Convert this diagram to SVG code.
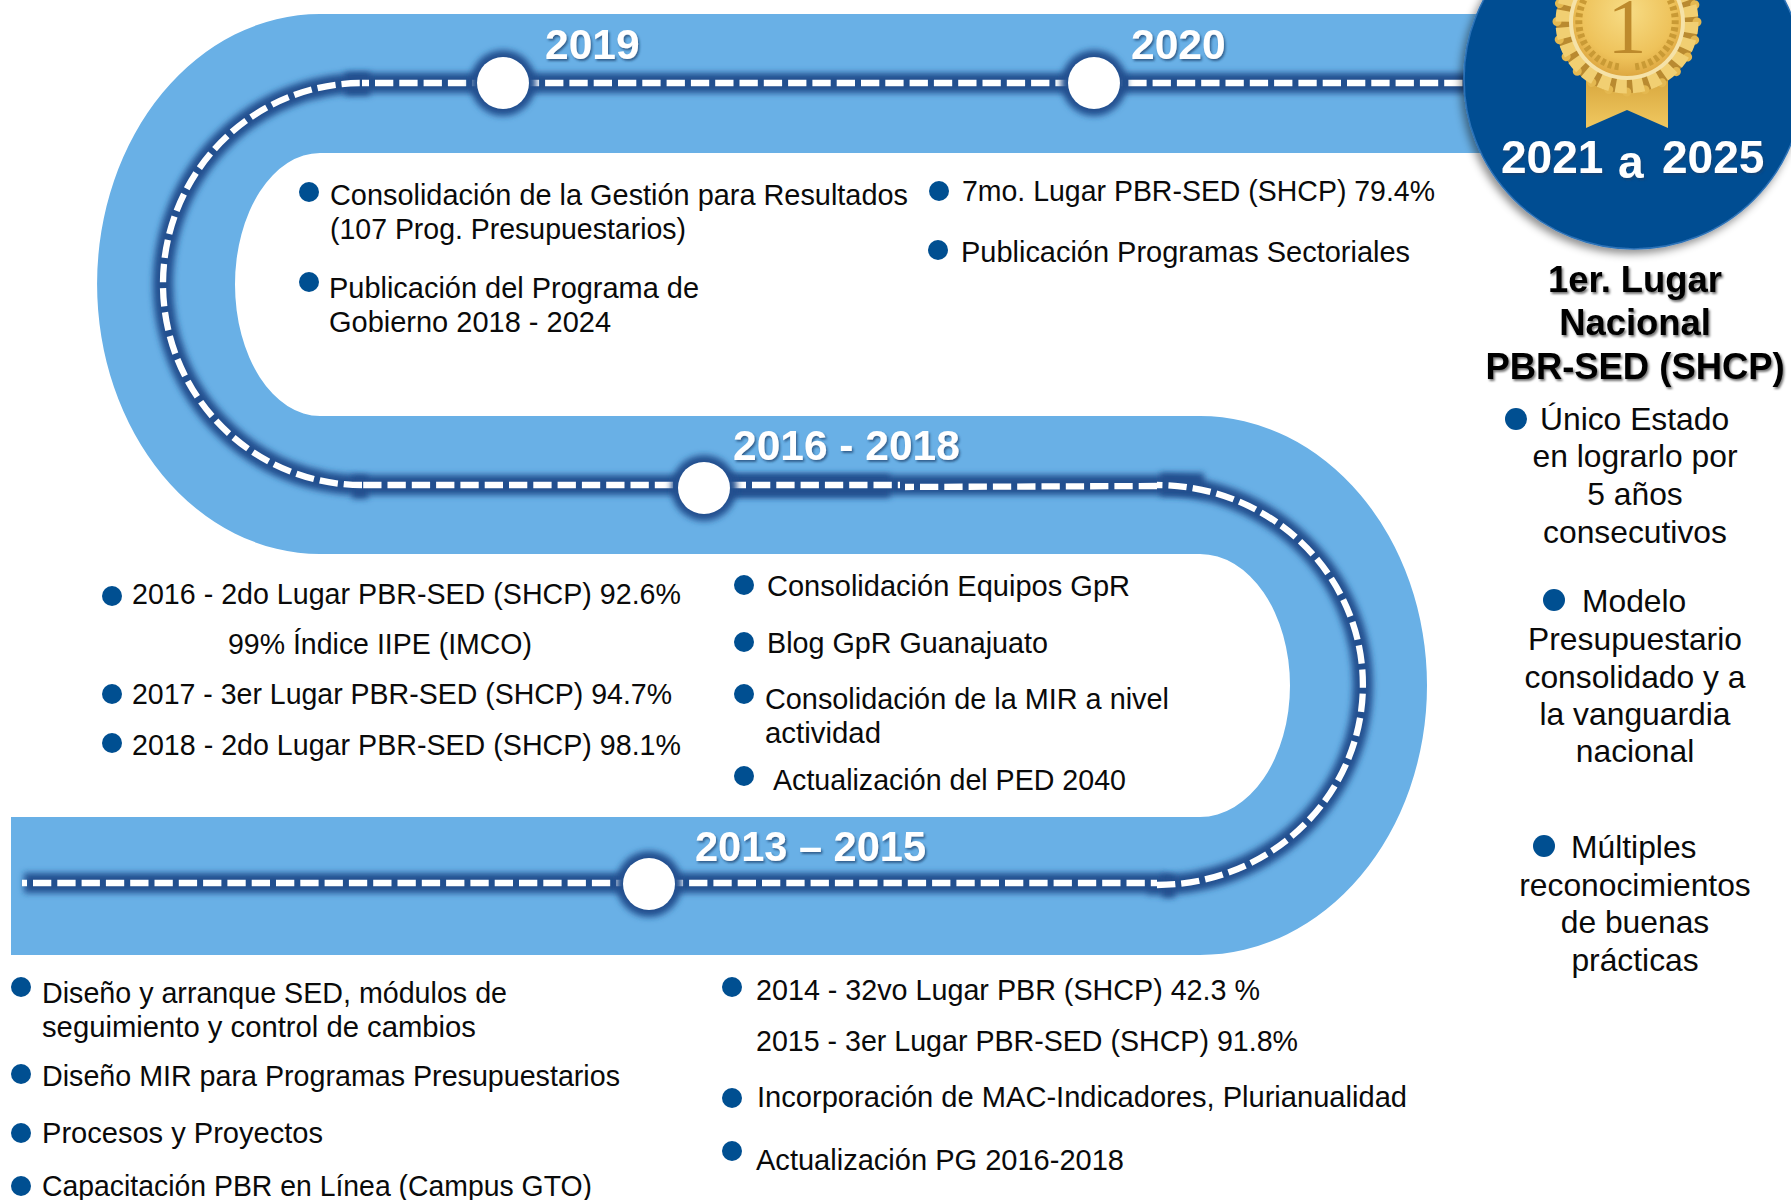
<svg xmlns="http://www.w3.org/2000/svg" width="1791" height="1200" viewBox="0 0 1791 1200">
<style>
text{font-family:"Liberation Sans",Arial,sans-serif}
.t{font-size:28.6px;fill:#0a0a0a}
.r{font-size:31.8px;fill:#0a0a0a}
.c{text-anchor:middle}
.y{font-size:42.500px;font-weight:bold;fill:#fff;filter:url(#ts)}
.y2{font-size:46px}
.h{font-size:36.400px;font-weight:bold;fill:#000;text-anchor:middle;filter:url(#ts2)}
.b{fill:#004f91}
.dash{fill:none;stroke:#fff;stroke-width:6.3;stroke-dasharray:18.3 6}
.glow{fill:none;stroke:#23508f;stroke-width:20;filter:url(#bl)}
.patch{fill:none;stroke:#23508f;stroke-width:23;filter:url(#bl)}
.n{fill:#fff}
.nh{fill:#23508f;filter:url(#bl)}
</style>
<defs>
<filter id="bl" filterUnits="userSpaceOnUse" x="0" y="0" width="1791" height="1200"><feGaussianBlur stdDeviation="3"/></filter>
<filter id="ts" x="-10%" y="-20%" width="125%" height="150%"><feDropShadow dx="1.500" dy="2" stdDeviation="1.200" flood-color="#1d3f6b" flood-opacity=".7"/></filter>
<filter id="ts2" x="-10%" y="-20%" width="125%" height="150%"><feDropShadow dx="1.500" dy="2" stdDeviation="1.200" flood-color="#000" flood-opacity=".55"/></filter>
<filter id="cs" x="-10%" y="-10%" width="125%" height="125%"><feDropShadow dx="-3" dy="4" stdDeviation="4" flood-color="#000" flood-opacity=".45"/></filter>
<radialGradient id="gold" cx="50%" cy="40%" r="62%"><stop offset="0" stop-color="#f7dc85"/><stop offset=".7" stop-color="#eec25a"/><stop offset="1" stop-color="#dca53f"/></radialGradient>
<linearGradient id="rib" x1="0" y1="0" x2="0" y2="1"><stop offset="0" stop-color="#d8a83f"/><stop offset="1" stop-color="#f0c860"/></linearGradient>
</defs>

<g id="band">
<path fill="#69b0e6" d="M1500 14H320A223 270 0 0 0 320 554H1200A90 131.500 0 0 1 1200 817H11V955H1200A227 269.500 0 0 0 1200 416H320A85 131.500 0 0 1 320 153H1500Z"/>
</g>

<g id="connectors">
<path class="glow" d="M24 883H1157V885A206 200 0 0 0 1157 485H362A199 201 0 0 1 362 83H1480"/>
<path class="patch" d="M700 486H890M345 84H370M352 487H368M1160 484.500H1204M1162 886H1175"/>
<path class="dash" style="stroke-dashoffset:13.3" d="M22 883H1157"/>
<path class="dash" d="M1157 885A206 200 0 0 0 1157 485"/>
<path class="dash" d="M1157 486L905 487"/>
<path class="dash" style="stroke-dashoffset:23.1" d="M362 485H900"/>
<path class="dash" d="M362 485A199 201 0 0 1 362 83"/>
<path class="dash" style="stroke-dashoffset:11.3" d="M362 83H1480"/>
</g>

<g id="node-2019"><circle class="nh" cx="503" cy="83" r="33"/><circle class="n" cx="503" cy="83" r="26"/><text class="y" x="545" y="59">2019</text></g>
<g id="node-2020"><circle class="nh" cx="1094" cy="83" r="33"/><circle class="n" cx="1094" cy="83" r="26"/><text class="y" x="1131" y="59">2020</text></g>
<g id="node-2016"><circle class="nh" cx="704" cy="488" r="33"/><circle class="n" cx="704" cy="488" r="26"/><text class="y" x="733" y="460">2016 - 2018</text></g>
<g id="node-2013"><circle class="nh" cx="649" cy="884" r="33"/><circle class="n" cx="649" cy="884" r="26"/><text class="y" x="695" y="861" textLength="231" lengthAdjust="spacingAndGlyphs">2013 – 2015</text></g>

<g id="node-2021">
<circle cx="1634" cy="79" r="170" fill="#044e92" stroke="#2b72b8" stroke-width="1.500" filter="url(#cs)"/>
<g id="medal">
<path d="M1586 80H1668V128L1627 110L1586 128Z" fill="url(#rib)"/>
<circle cx="1627" cy="22" r="64" fill="none" stroke="#b98a30" stroke-width="14"/>
<circle cx="1627" cy="22" r="70" fill="none" stroke="#e4b850" stroke-width="9" stroke-linecap="round" stroke-dasharray="0.100 18.230"/>
<circle cx="1627" cy="22" r="64" fill="none" stroke="#f1cf72" stroke-width="15" stroke-dasharray="11 5.760"/>
<circle cx="1627" cy="22" r="58" fill="#f5e2a8"/>
<circle cx="1627" cy="22" r="54" fill="url(#gold)"/>
<path d="M1584 0A46 46 0 0 0 1620 67M1670 0A46 46 0 0 1 1634 67" fill="none" stroke="#c99a35" stroke-width="7" stroke-dasharray="4 3"/>
<text x="1627" y="52" font-size="78" text-anchor="middle" fill="#bd8a2c" style="font-family:'Liberation Serif',serif">1</text>
</g>
<text class="y y2" x="1501" y="173">2021</text>
<text class="y y2" x="1618" y="178">a</text>
<text class="y y2" x="1662" y="173">2025</text>
</g>

<g id="titulo">
<text class="h" x="1635" y="292">1er. Lugar</text>
<text class="h" x="1635" y="335">Nacional</text>
<text class="h" x="1635" y="379">PBR-SED (SHCP)</text>
</g>

<g id="lista-2019">
<circle class="b" cx="309" cy="192" r="10"/><text class="t" x="330" y="205" textLength="578" lengthAdjust="spacingAndGlyphs">Consolidación de la Gestión para Resultados</text>
<text class="t" x="330" y="239" textLength="356" lengthAdjust="spacingAndGlyphs">(107 Prog. Presupuestarios)</text>
<circle class="b" cx="309" cy="282" r="10"/><text class="t" x="329" y="298" textLength="370" lengthAdjust="spacingAndGlyphs">Publicación del Programa de</text>
<text class="t" x="329" y="332" textLength="282" lengthAdjust="spacingAndGlyphs">Gobierno 2018 - 2024</text>
</g>
<g id="lista-2020">
<circle class="b" cx="939" cy="191" r="10"/><text class="t" x="962" y="201" textLength="473" lengthAdjust="spacingAndGlyphs">7mo. Lugar PBR-SED (SHCP) 79.4%</text>
<circle class="b" cx="938" cy="250" r="10"/><text class="t" x="961" y="262" textLength="449" lengthAdjust="spacingAndGlyphs">Publicación Programas Sectoriales</text>
</g>
<g id="lista-2016a">
<circle class="b" cx="112" cy="596" r="10"/><text class="t" x="132" y="604" textLength="549" lengthAdjust="spacingAndGlyphs">2016 - 2do Lugar PBR-SED (SHCP) 92.6%</text>
<text class="t" x="228" y="654" textLength="304" lengthAdjust="spacingAndGlyphs">99% Índice IIPE (IMCO)</text>
<circle class="b" cx="112" cy="694" r="10"/><text class="t" x="132" y="704" textLength="540" lengthAdjust="spacingAndGlyphs">2017 - 3er Lugar PBR-SED (SHCP) 94.7%</text>
<circle class="b" cx="112" cy="743" r="10"/><text class="t" x="132" y="755" textLength="549" lengthAdjust="spacingAndGlyphs">2018 - 2do Lugar PBR-SED (SHCP) 98.1%</text>
</g>
<g id="lista-2016b">
<circle class="b" cx="744" cy="585" r="10"/><text class="t" x="767" y="596" textLength="363" lengthAdjust="spacingAndGlyphs">Consolidación Equipos GpR</text>
<circle class="b" cx="744" cy="642" r="10"/><text class="t" x="767" y="653" textLength="281" lengthAdjust="spacingAndGlyphs">Blog GpR Guanajuato</text>
<circle class="b" cx="744" cy="694" r="10"/><text class="t" x="765" y="709" textLength="404" lengthAdjust="spacingAndGlyphs">Consolidación de la MIR a nivel</text>
<text class="t" x="765" y="743" textLength="116" lengthAdjust="spacingAndGlyphs">actividad</text>
<circle class="b" cx="744" cy="776" r="10"/><text class="t" x="773" y="790" textLength="353" lengthAdjust="spacingAndGlyphs">Actualización del PED 2040</text>
</g>
<g id="lista-2013a">
<circle class="b" cx="21" cy="987" r="10"/><text class="t" x="42" y="1003" textLength="465" lengthAdjust="spacingAndGlyphs">Diseño y arranque SED, módulos de</text>
<text class="t" x="42" y="1037" textLength="434" lengthAdjust="spacingAndGlyphs">seguimiento y control de cambios</text>
<circle class="b" cx="21" cy="1074" r="10"/><text class="t" x="42" y="1086" textLength="578" lengthAdjust="spacingAndGlyphs">Diseño MIR para Programas Presupuestarios</text>
<circle class="b" cx="21" cy="1133" r="10"/><text class="t" x="42" y="1143" textLength="281" lengthAdjust="spacingAndGlyphs">Procesos y Proyectos</text>
<circle class="b" cx="21" cy="1186" r="10"/><text class="t" x="42" y="1196" textLength="550" lengthAdjust="spacingAndGlyphs">Capacitación PBR en Línea (Campus GTO)</text>
</g>
<g id="lista-2013b">
<circle class="b" cx="732" cy="987" r="10"/><text class="t" x="756" y="1000" textLength="504" lengthAdjust="spacingAndGlyphs">2014 - 32vo Lugar PBR (SHCP) 42.3 %</text>
<text class="t" x="756" y="1051" textLength="542" lengthAdjust="spacingAndGlyphs">2015 - 3er Lugar PBR-SED (SHCP) 91.8%</text>
<circle class="b" cx="732" cy="1098" r="10"/><text class="t" x="757" y="1107" textLength="650" lengthAdjust="spacingAndGlyphs">Incorporación de MAC-Indicadores, Plurianualidad</text>
<circle class="b" cx="732" cy="1151" r="10"/><text class="t" x="756" y="1170" textLength="368" lengthAdjust="spacingAndGlyphs">Actualización PG 2016-2018</text>
</g>
<g id="lista-2021">
<circle class="b" cx="1516" cy="419" r="11"/><text class="r" x="1540" y="430">Único Estado</text>
<text class="r c" x="1635" y="467">en lograrlo por</text>
<text class="r c" x="1635" y="505">5 años</text>
<text class="r c" x="1635" y="543">consecutivos</text>
<circle class="b" cx="1554" cy="600" r="11"/><text class="r" x="1582" y="612">Modelo</text>
<text class="r c" x="1635" y="650">Presupuestario</text>
<text class="r c" x="1635" y="688">consolidado y a</text>
<text class="r c" x="1635" y="725">la vanguardia</text>
<text class="r c" x="1635" y="762">nacional</text>
<circle class="b" cx="1544" cy="846" r="11"/><text class="r" x="1571" y="858">Múltiples</text>
<text class="r c" x="1635" y="896">reconocimientos</text>
<text class="r c" x="1635" y="933">de buenas</text>
<text class="r c" x="1635" y="971">prácticas</text>
</g>
</svg>
